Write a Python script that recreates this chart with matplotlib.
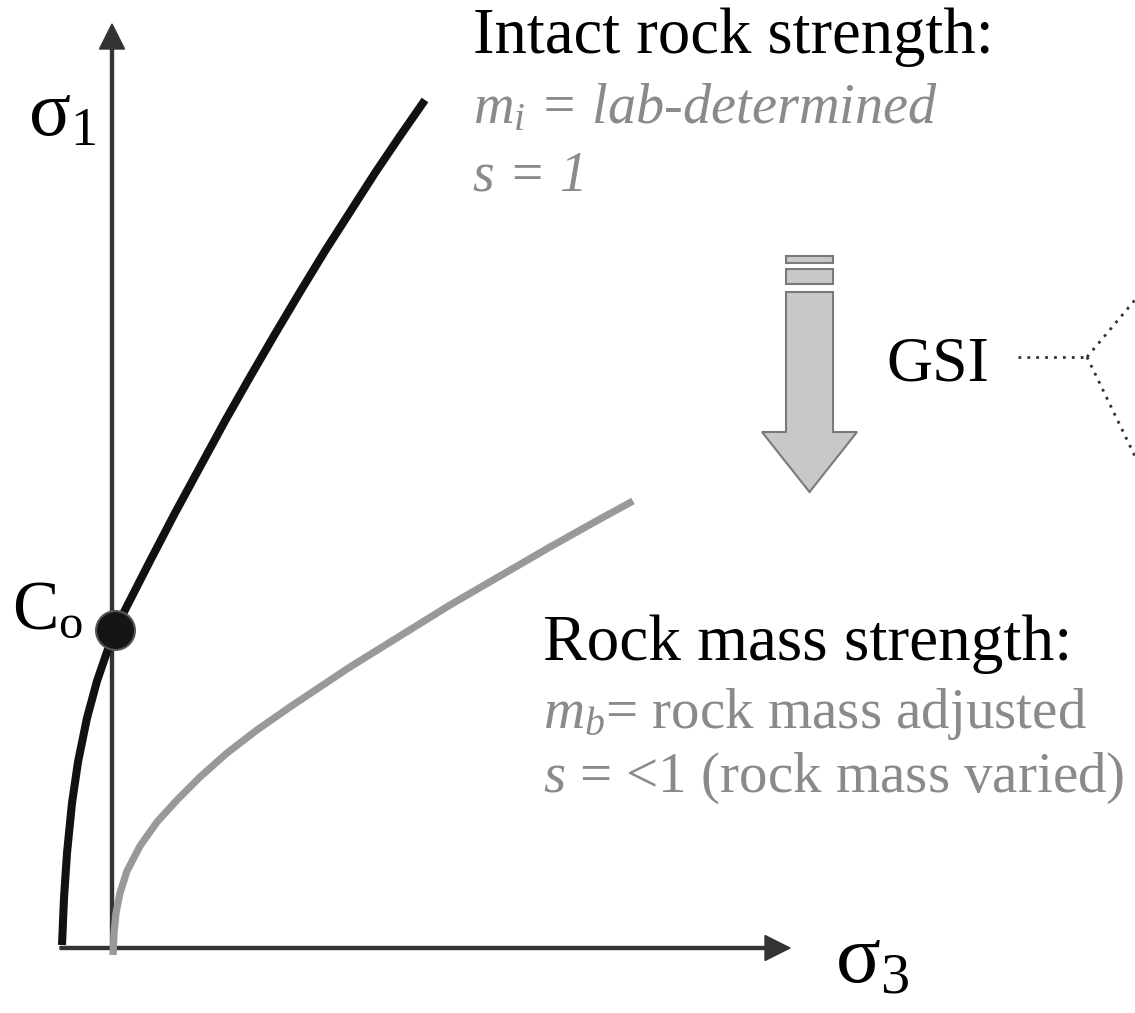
import numpy as np
import matplotlib.pyplot as plt
from matplotlib.patches import FancyArrow, Rectangle

# Hoek-Brown failure envelopes (sigma3, sigma1), arbitrary units
intact_s3 = [-0.50, -0.48, -0.45, -0.40, -0.34, -0.25, -0.15, -0.04, 0.03,
             0.13, 0.38, 0.63, 0.88, 1.13, 1.38, 1.63, 1.88, 2.13,
             2.38, 2.63, 2.88, 3.13]
intact_s1 = [0.03, 0.50, 0.95, 1.45, 1.86, 2.30, 2.67, 2.99, 3.18,
             3.38, 3.87, 4.35, 4.81, 5.27, 5.71, 6.14, 6.56, 6.97,
             7.36, 7.75, 8.12, 8.48]

mass_s3 = [0.01, 0.02, 0.04, 0.08, 0.15, 0.28, 0.45, 0.65, 0.88, 1.15,
           1.45, 1.78, 2.11, 2.38, 2.88, 3.38, 3.88, 4.38, 4.88, 5.21]
mass_s1 = [-0.07, 0.15, 0.35, 0.55, 0.77, 1.02, 1.26, 1.48, 1.71, 1.95,
           2.18, 2.41, 2.63, 2.81, 3.12, 3.43, 3.72, 4.01, 4.29, 4.47]

co_point = (0.03, 3.18)

plt.rcParams['mathtext.fontset'] = 'custom'
plt.rcParams['mathtext.rm'] = 'Liberation Serif'
plt.rcParams['mathtext.it'] = 'Liberation Serif:italic'
plt.rcParams['font.family'] = ['Liberation Serif', 'DejaVu Serif']

fig = plt.figure(figsize=(11.35, 10.13), dpi=100)
ax = fig.add_axes([0, 0, 1, 1])
ax.set_xlim(-1.12, 10.23)
ax.set_ylim(-0.65, 9.48)
ax.axis('off')

axis_col = '#333333'
# axes with arrow heads
ax.arrow(0, 0, 0, 9.24, width=0.03, head_width=0.25, head_length=0.25,
         length_includes_head=True, color=axis_col, zorder=2)
ax.arrow(-0.52, 0, 7.30, 0, width=0.03, head_width=0.25, head_length=0.25,
         length_includes_head=True, color=axis_col, zorder=2)

# envelopes
ax.plot(mass_s3, mass_s1, color='#999999', lw=5.2, solid_capstyle='butt',
        solid_joinstyle='round', zorder=3)
ax.plot(intact_s3, intact_s1, color='#111111', lw=5.8, solid_capstyle='butt',
        solid_joinstyle='round', zorder=4)
ax.plot(*co_point, 'o', ms=28, color='#151515', mec='#555555', mew=1.5, zorder=5)

# labels on axes
ax.text(-0.84, 8.13, r'$\mathrm{σ}_{\mathrm{1}}$', fontsize=56, va='baseline')
ax.text(7.23, -0.34, r'$\mathrm{σ}_{\mathrm{3}}$', fontsize=60, va='baseline')
ax.text(-1.00, 3.20, r'$\mathrm{C}_{\mathrm{o}}$', fontsize=50, va='baseline')

grey_txt = '#8a8a8a'
ax.text(3.61, 8.95, 'Intact rock strength:', fontsize=46.5, va='baseline')
ax.text(3.61, 8.25, r'$m_i$ = lab-determined', fontsize=40.5, style='italic',
        color=grey_txt, va='baseline')
ax.text(3.61, 7.58, 's = 1', fontsize=40, style='italic', color=grey_txt,
        va='baseline')

ax.text(4.31, 2.88, 'Rock mass strength:', fontsize=47, va='baseline')
ax.text(4.31, 2.20, r'$m_b$= rock mass adjusted', fontsize=41, color=grey_txt,
        va='baseline')
ax.text(4.31, 1.56, r'$s$ = <1 (rock mass varied)', fontsize=41, color=grey_txt,
        va='baseline')

# GSI block arrow
fill, edge = '#c8c8c8', '#7a7a7a'
ax.add_patch(Rectangle((6.74, 6.85), 0.47, 0.07, fc=fill, ec=edge, lw=1.5))
ax.add_patch(Rectangle((6.74, 6.64), 0.47, 0.15, fc=fill, ec=edge, lw=1.5))
ax.add_patch(FancyArrow(6.975, 6.56, 0, -2.0, width=0.47, head_width=0.95,
                        head_length=0.60, length_includes_head=True,
                        fc=fill, ec=edge, lw=1.5))
ax.text(7.74, 5.68, 'GSI', fontsize=46, va='baseline')

# dotted connectors running off the right edge
dot = dict(color='#333333', lw=2, ls=(0, (1, 2.2)))
ax.plot([9.06, 9.75], [5.91, 5.91], **dot)
ax.plot([9.75, 10.33], [5.91, 6.60], **dot)
ax.plot([9.75, 10.33], [5.91, 4.71], **dot)

plt.savefig('out.png', dpi=100)
